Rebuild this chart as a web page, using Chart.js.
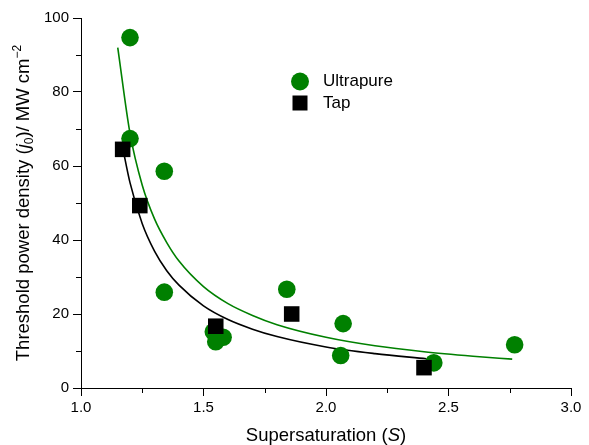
<!DOCTYPE html>
<html>
<head>
<meta charset="utf-8">
<script src="https://cdn.jsdelivr.net/npm/chart.js@4.4.1/dist/chart.umd.min.js"></script>
<style>
html,body{margin:0;padding:0;background:#fff;}
#c{display:block;}
</style>
</head>
<body>
<canvas id="c" width="589" height="445"></canvas>
<script>
// ---- data ----
const ultrapureS = [1.20, 1.20, 1.34, 1.34, 1.54, 1.55, 1.58, 1.84, 2.07, 2.06, 2.44, 2.77];
const ultrapureJ = [94.7, 67.4, 58.6, 25.9, 15.2, 12.5, 13.7, 26.7, 17.4, 8.8, 6.8, 11.7];
const tapS = [1.17, 1.24, 1.55, 1.86, 2.40];
const tapJ = [64.5, 49.3, 16.7, 20.0, 5.5];

const ultrapureFitS = [1.15, 1.20, 1.25, 1.30, 1.35, 1.40, 1.50, 1.60, 1.70, 1.80, 2.00, 2.20, 2.40, 2.60, 2.76];
const ultrapureFitJ = [92.0, 68.8, 54.8, 45.7, 39.3, 34.3, 27.4, 22.8, 19.6, 17.1, 13.7, 11.4, 9.8, 8.6, 7.8];
const tapFitS = [1.17, 1.20, 1.25, 1.30, 1.35, 1.40, 1.50, 1.60, 1.70, 1.80, 2.00, 2.20, 2.41];
const tapFitJ = [65.0, 55.5, 44.4, 37.0, 31.7, 27.8, 22.2, 18.5, 15.9, 13.9, 11.1, 9.3, 7.9];

const xMajorTicks = [1.0, 1.5, 2.0, 2.5, 3.0];
const xMinorTicks = [1.25, 1.75, 2.25, 2.75];
const yMajorTicks = [0, 20, 40, 60, 80, 100];
const yMinorTicks = [10, 30, 50, 70, 90];

const GREEN = '#008000';
const FONT = '"Liberation Sans", Arial, sans-serif';

const toXY = (xs, ys) => xs.map((x, i) => ({x: x, y: ys[i]}));

const extrasPlugin = {
  id: 'extras',
  afterDraw(chart) {
    const ctx = chart.ctx;
    const xs = chart.scales.x, ys = chart.scales.y;
    const a = chart.chartArea;
    ctx.save();
    // minor ticks
    ctx.strokeStyle = '#000';
    ctx.lineWidth = 1;
    ctx.beginPath();
    xMinorTicks.forEach(v => {
      const px = Math.round(xs.getPixelForValue(v)) + 0.5;
      ctx.moveTo(px, a.bottom);
      ctx.lineTo(px, a.bottom + 5);
    });
    yMinorTicks.forEach(v => {
      const py = Math.round(ys.getPixelForValue(v)) + 0.5;
      ctx.moveTo(a.left, py);
      ctx.lineTo(a.left - 5, py);
    });
    ctx.stroke();

    // legend
    const lx = 300, ly1 = 81.5, ly2 = 103;
    ctx.fillStyle = GREEN;
    ctx.beginPath();
    ctx.arc(lx, ly1, 9, 0, Math.PI * 2);
    ctx.fill();
    ctx.fillStyle = '#000';
    ctx.fillRect(lx - 7.5, ly2 - 7.5, 15, 15);
    ctx.font = '17px ' + FONT;
    ctx.textBaseline = 'middle';
    ctx.textAlign = 'left';
    ctx.fillStyle = '#000';
    ctx.fillText('Ultrapure', 323, ly1);
    ctx.fillText('Tap', 323, ly2);

    // x title
    const xsegs = [
      {t: 'Supersaturation (', f: '18.5px ' + FONT},
      {t: 'S', f: 'italic 18.5px ' + FONT},
      {t: ')', f: '18.5px ' + FONT}
    ];
    drawSegs(ctx, xsegs, (a.left + a.right) / 2, 441, 0);

    // y title
    const ysegs = [
      {t: 'Threshold power density (', f: '18.5px ' + FONT},
      {t: 'j', f: 'italic 18.5px ' + FONT},
      {t: '0', f: '12px ' + FONT, dy: 4},
      {t: ')/ MW cm', f: '18.5px ' + FONT},
      {t: '\u22122', f: '12px ' + FONT, dy: -8}
    ];
    drawSegs(ctx, ysegs, 29, (a.top + a.bottom) / 2, -Math.PI / 2);
    ctx.restore();
  }
};

function drawSegs(ctx, segs, cx, cy, rot) {
  ctx.save();
  ctx.translate(cx, cy);
  ctx.rotate(rot);
  ctx.textBaseline = 'alphabetic';
  ctx.textAlign = 'left';
  ctx.fillStyle = '#000';
  let total = 0;
  segs.forEach(s => { ctx.font = s.f; s.w = ctx.measureText(s.t).width; total += s.w; });
  let x = -total / 2;
  segs.forEach(s => {
    ctx.font = s.f;
    ctx.fillText(s.t, x, s.dy || 0);
    x += s.w;
  });
  ctx.restore();
}

new Chart(document.getElementById('c'), {
  type: 'scatter',
  data: {
    datasets: [
      {
        label: 'Tap',
        data: toXY(tapS, tapJ),
        pointStyle: 'rect',
        pointRadius: 11,
        pointHoverRadius: 11,
        backgroundColor: '#000',
        borderColor: '#000',
        borderWidth: 0,
        showLine: false,
        order: 0
      },
      {
        label: 'Ultrapure',
        data: toXY(ultrapureS, ultrapureJ),
        pointStyle: 'circle',
        pointRadius: 8.8,
        pointHoverRadius: 8.8,
        backgroundColor: GREEN,
        borderColor: GREEN,
        borderWidth: 0,
        showLine: false,
        order: 1
      },
      {
        label: 'Tap fit',
        data: toXY(tapFitS, tapFitJ),
        showLine: true,
        pointRadius: 0,
        borderColor: '#000',
        borderWidth: 1.6,
        cubicInterpolationMode: 'monotone',
        fill: false,
        order: 2
      },
      {
        label: 'Ultrapure fit',
        data: toXY(ultrapureFitS, ultrapureFitJ),
        showLine: true,
        pointRadius: 0,
        borderColor: GREEN,
        borderWidth: 1.6,
        cubicInterpolationMode: 'monotone',
        fill: false,
        order: 3
      }
    ]
  },
  options: {
    responsive: false,
    animation: false,
    devicePixelRatio: 1,
    layout: {padding: {left: 0, right: 18, top: 18, bottom: 0}},
    plugins: {legend: {display: false}, tooltip: {enabled: false}},
    scales: {
      x: {
        type: 'linear',
        min: 1, max: 3,
        afterBuildTicks: s => { s.ticks = xMajorTicks.map(v => ({value: v})); },
        afterFit: s => { s.height = 57; },
        grid: {display: true, drawOnChartArea: false, drawTicks: true, tickLength: 8, tickColor: '#000', tickWidth: 1},
        border: {display: true, color: '#000', width: 1},
        ticks: {color: '#000', font: {size: 15, family: FONT}, padding: 3, maxRotation: 0,
                callback: v => Number(v).toFixed(1)},
        title: {display: false}
      },
      y: {
        type: 'linear',
        min: 0, max: 100,
        afterBuildTicks: s => { s.ticks = yMajorTicks.map(v => ({value: v})); },
        afterFit: s => { s.width = 81; },
        grid: {display: true, drawOnChartArea: false, drawTicks: true, tickLength: 8, tickColor: '#000', tickWidth: 1},
        border: {display: true, color: '#000', width: 1},
        ticks: {color: '#000', font: {size: 15, family: FONT}, padding: 4,
                callback: v => String(v)},
        title: {display: false}
      }
    }
  },
  plugins: [extrasPlugin]
});
</script>
</body>
</html>
